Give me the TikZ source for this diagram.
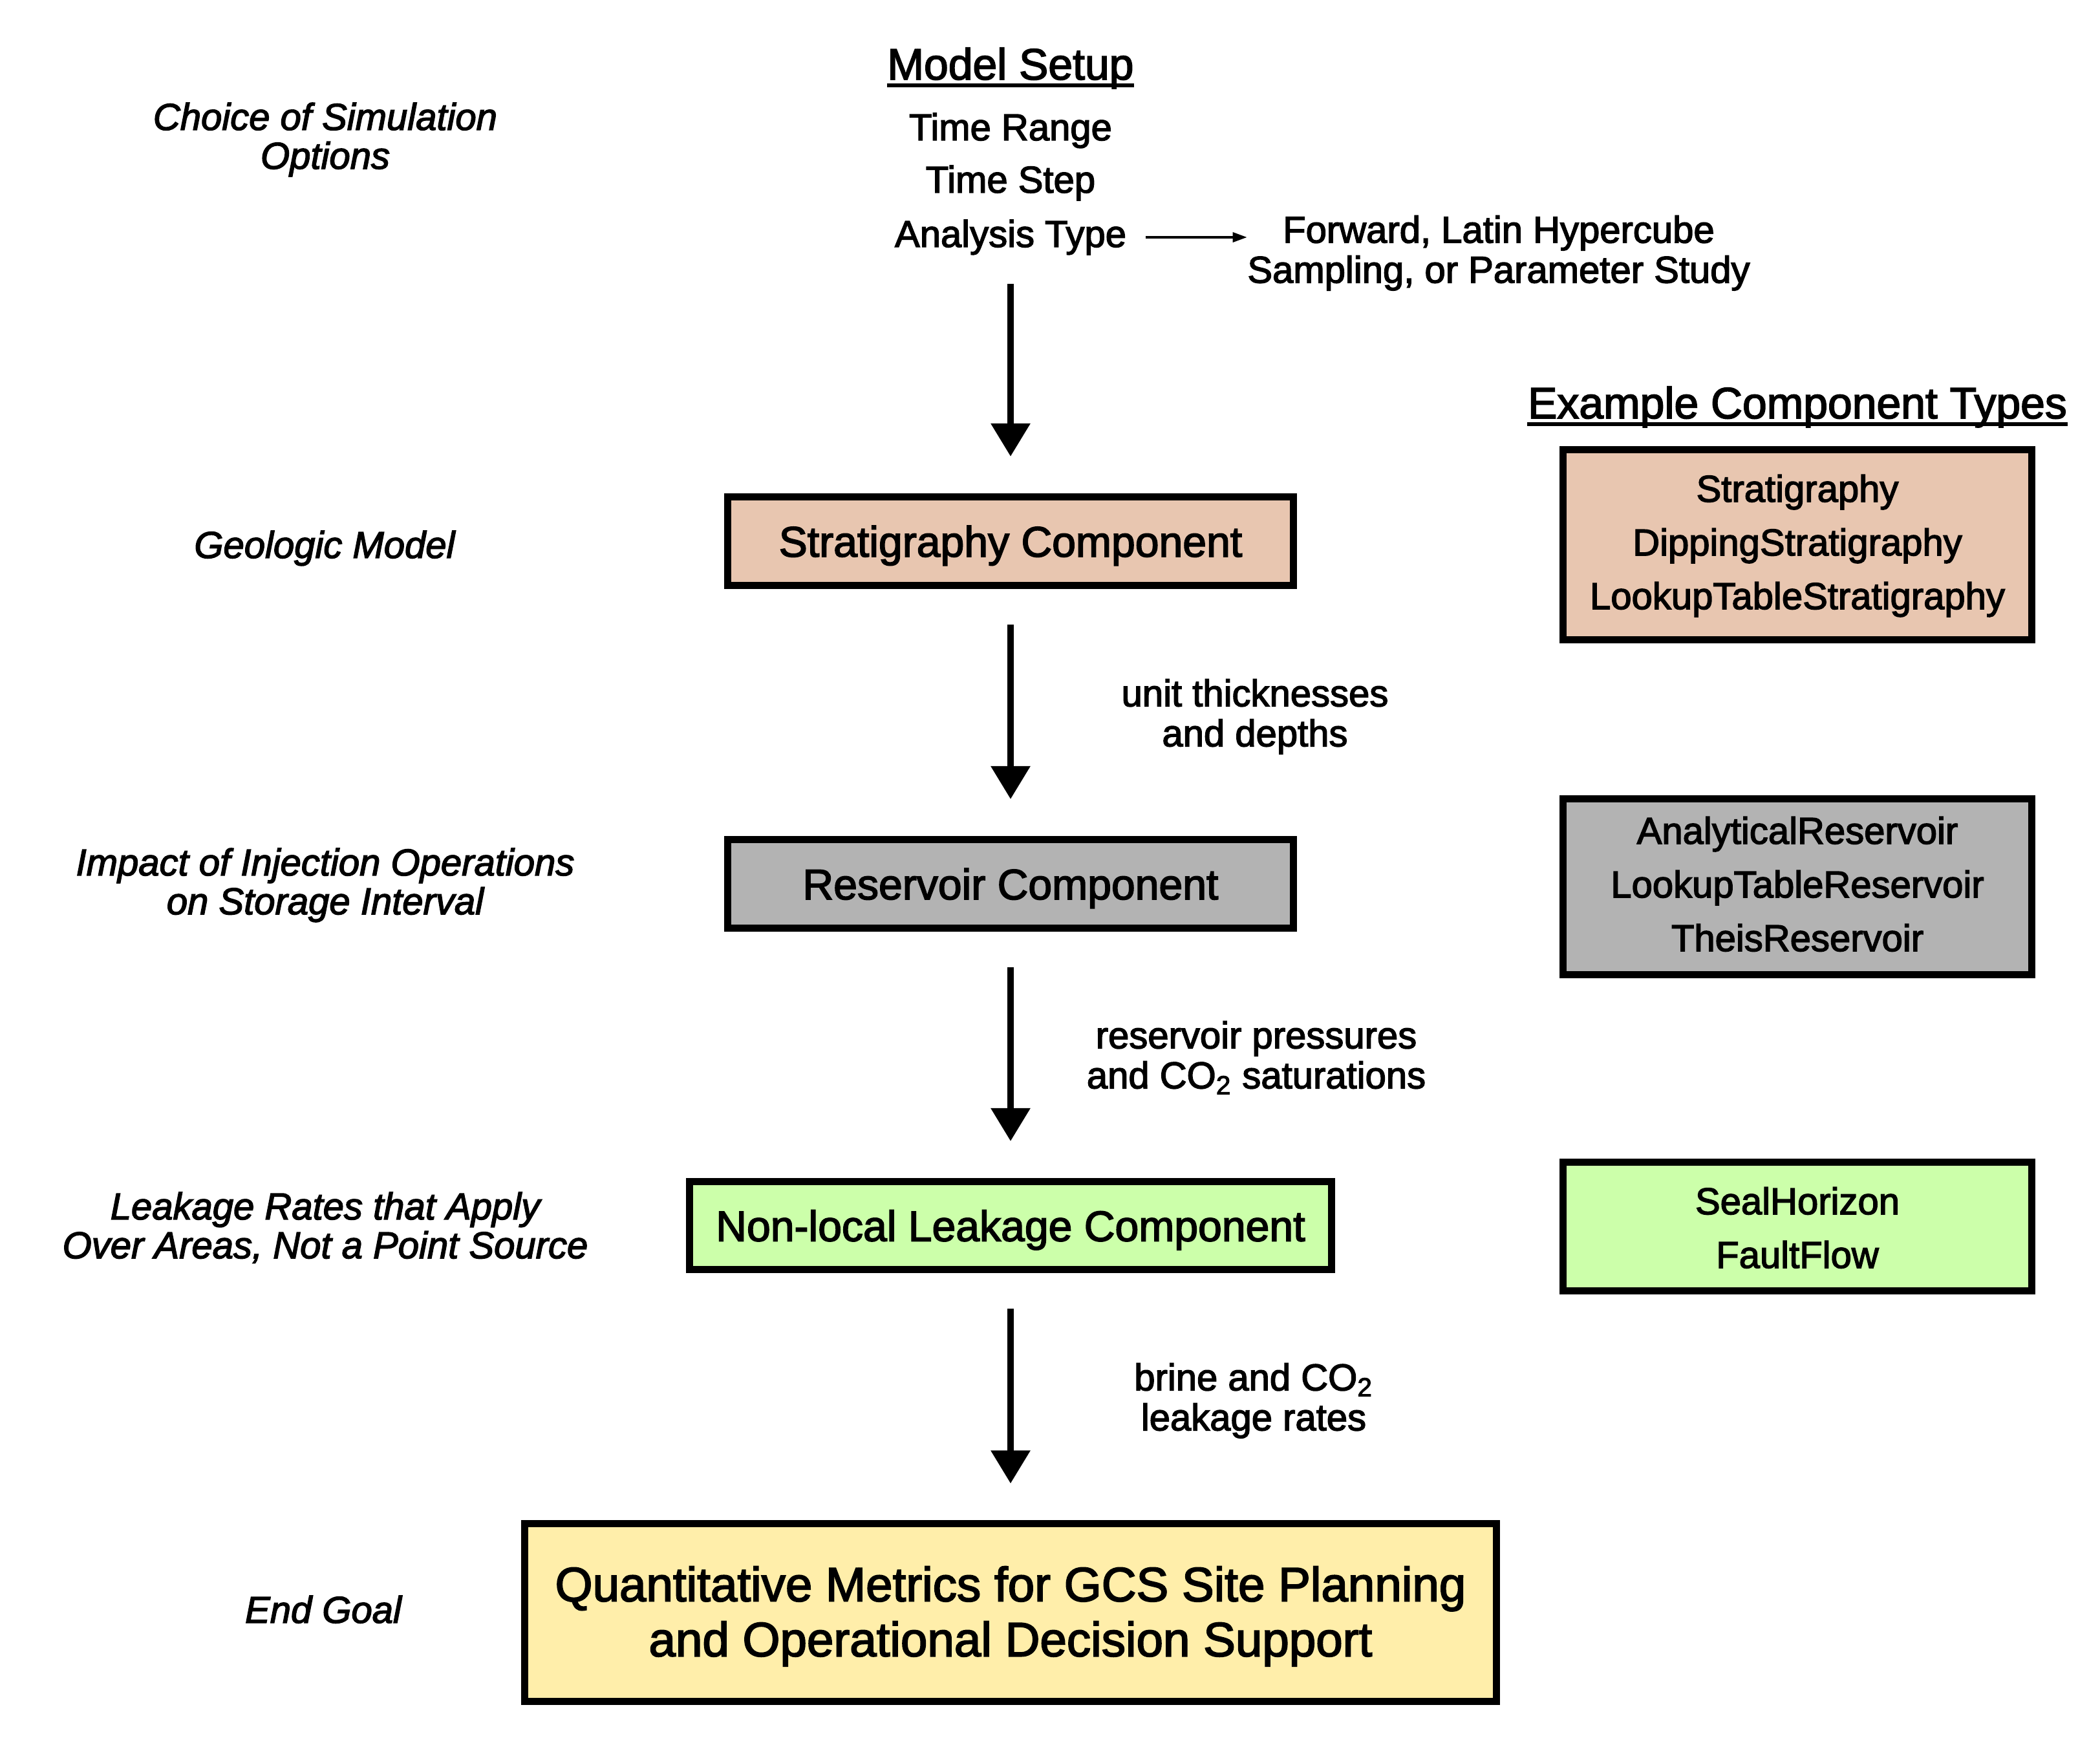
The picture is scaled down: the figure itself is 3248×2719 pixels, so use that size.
\documentclass[tikz,border=0pt]{standalone}
\usepackage{fontspec}
\setmainfont{Liberation Sans}[FakeBold=2.5]
\usetikzlibrary{arrows.meta}

\definecolor{stratfill}{RGB}{232,198,176}
\definecolor{resfill}{RGB}{179,179,179}
\definecolor{leakfill}{RGB}{204,255,170}
\definecolor{goalfill}{RGB}{255,238,170}

\begin{document}
\begin{tikzpicture}[x=0.01cm, y=-0.01cm,
  head/.style={inner sep=0pt, anchor=base, font=\fontsize{19.3}{23}\selectfont},
  uline/.style={line width=0.055cm},
  item/.style={inner sep=0pt, anchor=base, font=\fontsize{16.5}{20}\selectfont},
  lbl/.style={inner sep=0pt, align=center, font=\fontsize{16.5}{17.6}\selectfont},
  side/.style={inner sep=0pt, align=center, font=\itshape\fontsize{16.5}{17.1}\selectfont},
  sideone/.style={inner sep=0pt, anchor=base, font=\itshape\fontsize{16.5}{20}\selectfont},
  comp/.style={draw=black, line width=0.11cm, minimum width=8.75cm, minimum height=1.37cm,
    inner sep=0pt, text depth=0pt, font=\fontsize{18.8}{22}\selectfont},
  types/.style={draw=black, line width=0.11cm, minimum width=7.25cm, inner sep=0pt,
    align=center, font=\fontsize{16.5}{23.6}\selectfont},
  flow/.style={line width=0.095cm, -{Triangle[width=0.59cm,length=0.51cm]},
    shorten <=0.55cm, shorten >=0.57cm},
  thinflow/.style={line width=0.035cm, -{Triangle[width=0.15cm,length=0.22cm]}},
]
\useasboundingbox (0,0) rectangle (3248,2719);

% model setup block
\node[head] (setup) at (1563,123) {Model Setup};
\draw[uline] ([yshift=-0.09cm]setup.base west) -- ([yshift=-0.09cm]setup.base east);
\node[item] (trange) at (1563,217) {Time Range};
\node[item] (tstep) at (1563,298) {Time Step};
\node[item] (atype) at (1563,382) {Analysis Type};
\node[lbl] (fwd) at (2318,394) {\strut Forward, Latin Hypercube\\\strut Sampling, or Parameter Study};
\draw[thinflow, shorten <=0.29cm] (atype.east) -- (atype.east -| fwd.west);
\coordinate (setupend) at (1563,439);

% side captions
\node[side] (choice) at (503,219) {\strut Choice of Simulation\\\strut Options};
\node[sideone] (geo) at (502,863) {Geologic Model};
\node[side] (impact) at (503,1372) {\strut Impact of Injection Operations\\\strut on Storage Interval};
\node[side] (leakage) at (503,1904) {\strut Leakage Rates that Apply\\\strut Over Areas, Not a Point Source};
\node[sideone] (goal) at (500,2510) {End Goal};

% main chain of components
\node[comp, fill=stratfill] (strat) at (1563,837) {Stratigraphy Component};
\node[comp, fill=resfill] (res) at (1563,1367) {Reservoir Component};
\node[comp, fill=leakfill, minimum width=9.93cm, minimum height=1.36cm] (leak) at (1563,1895.5) {Non-local Leakage Component};
\node[comp, fill=goalfill, minimum width=15.02cm, minimum height=2.74cm, align=center,
  text depth=, font=\fontsize{21.2}{24.2}\selectfont] (goalbox) at (1563,2494)
  {\rule{0pt}{21.5pt}Quantitative Metrics for GCS Site Planning\\\strut and Operational Decision Support};

% example component types
\node[head] (extypes) at (2780,647) {Example Component Types};
\draw[uline] ([yshift=-0.09cm]extypes.base west) -- ([yshift=-0.09cm]extypes.base east);
\node[types, fill=stratfill, minimum height=2.94cm] (strattypes) at (2780,842.5)
  {\strut Stratigraphy\\\strut DippingStratigraphy\\\strut LookupTableStratigraphy};
\node[types, fill=resfill, minimum height=2.72cm] (restypes) at (2780,1371.5)
  {\strut AnalyticalReservoir\\\strut LookupTableReservoir\\\strut TheisReservoir};
\node[types, fill=leakfill, minimum height=1.99cm] (leaktypes) at (2780,1897)
  {\rule{0pt}{19.9pt}SealHorizon\\\strut FaultFlow};

% connectors
\draw[flow, shorten <=0pt] (setupend) -- (strat);
\draw[flow] (strat) -- (res);
\draw[flow] (res) -- (leak);
\draw[flow] (leak) -- (goalbox);

% connector labels
\node[lbl] (ulab) at (1941,1111) {\strut unit thicknesses\\\strut and depths};
\node[lbl] (rlab) at (1943,1640) {\strut reservoir pressures\\\strut and CO\textsubscript{2} saturations};
\node[lbl] (blab) at (1939,2169) {\strut brine and CO\textsubscript{2}\\\strut leakage rates};
\end{tikzpicture}
\end{document}
